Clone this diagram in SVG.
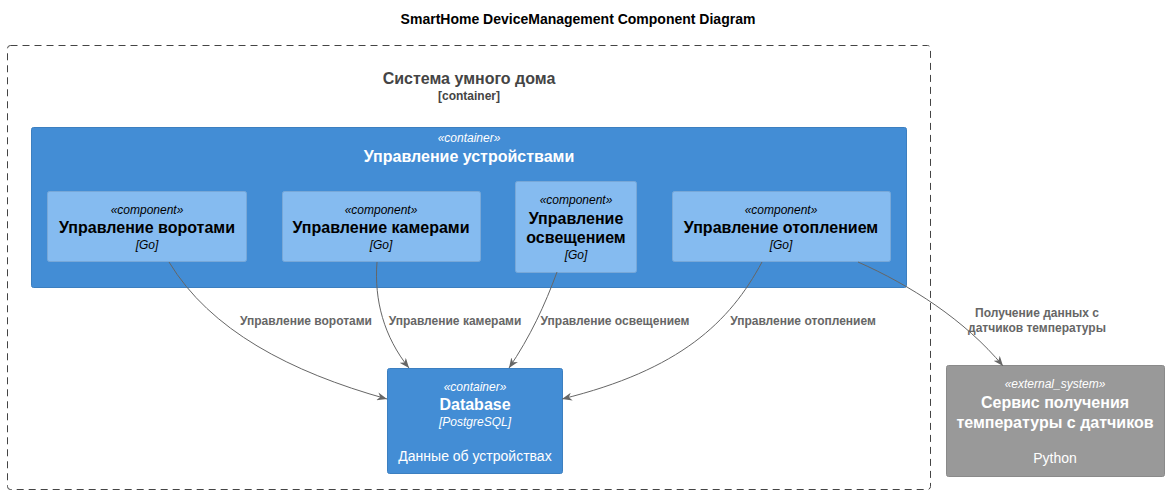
<svg xmlns="http://www.w3.org/2000/svg" width="1169" height="495" viewBox="0 0 1169 495">
<style>
text{font-family:"Liberation Sans",Arial,sans-serif;text-anchor:middle}
.title{font-size:14px;font-weight:bold;fill:#000}
.bname{font-size:16px;font-weight:bold;fill:#444}
.btype{font-size:12px;font-weight:bold;fill:#444}
.st{font-size:12px;font-style:italic}
.nm{font-size:16px;font-weight:bold}
.ds{font-size:14px}
.w{fill:#fff}
.k{fill:#000}
.lbl{font-size:12px;font-weight:bold;fill:#666}
.cont{fill:#438DD5;stroke:#3C7FC0;stroke-width:1}
.comp{fill:#85BBF0;stroke:#78A8D8;stroke-width:1}
.ext{fill:#999999;stroke:#8A8A8A;stroke-width:1}
.conn{fill:none;stroke:#666;stroke-width:1}
</style>
<defs>
<marker id="arr" viewBox="0 0 10 8" refX="10" refY="4" markerWidth="10" markerHeight="8" orient="auto" markerUnits="userSpaceOnUse">
<path d="M0,0 L10,4 L0,8 L3,4 z" fill="#666"/>
</marker>
</defs>
<rect width="1169" height="495" fill="#fff"/>
<text class="title" x="578" y="24">SmartHome DeviceManagement Component Diagram</text>

<g id="boundary">
<rect x="7.5" y="45.5" width="923" height="444" rx="3" fill="none" stroke="#444" stroke-width="1" stroke-dasharray="7,5"/>
<text class="bname" x="469" y="84">Система умного дома</text>
<text class="btype" x="469" y="100">[container]</text>
</g>

<g id="device_management">
<rect class="cont" x="31.5" y="127.5" width="875" height="160" rx="2"/>
<text class="st w" x="469" y="142">«container»</text>
<text class="nm w" x="469" y="162">Управление устройствами</text>
</g>

<g id="gate_control">
<rect class="comp" x="47.5" y="191.5" width="199" height="70" rx="2"/>
<text class="st k" x="147" y="214">«component»</text>
<text class="nm k" x="147" y="233">Управление воротами</text>
<text class="st k" x="147" y="249">[Go]</text>
</g>

<g id="camera_control">
<rect class="comp" x="282.5" y="191.5" width="198" height="70" rx="2"/>
<text class="st k" x="381" y="214">«component»</text>
<text class="nm k" x="381" y="233">Управление камерами</text>
<text class="st k" x="381" y="249">[Go]</text>
</g>

<g id="light_control">
<rect class="comp" x="515.5" y="181.5" width="121" height="91" rx="2"/>
<text class="st k" x="576" y="204">«component»</text>
<text class="nm k" x="576" y="224">Управление</text>
<text class="nm k" x="576" y="243">освещением</text>
<text class="st k" x="576" y="259">[Go]</text>
</g>

<g id="heating_control">
<rect class="comp" x="672.5" y="191.5" width="218" height="70" rx="2"/>
<text class="st k" x="781" y="214">«component»</text>
<text class="nm k" x="781" y="233">Управление отоплением</text>
<text class="st k" x="781" y="249">[Go]</text>
</g>

<g id="database">
<rect class="cont" x="387.5" y="368.5" width="175" height="105" rx="2"/>
<text class="st w" x="475" y="391">«container»</text>
<text class="nm w" x="475" y="410">Database</text>
<text class="st w" x="475" y="426">[PostgreSQL]</text>
<text class="ds w" x="475" y="461">Данные об устройствах</text>
</g>

<g id="temperature_service">
<rect class="ext" x="946.5" y="365.5" width="218" height="111" rx="2"/>
<text class="st w" x="1055" y="388">«external_system»</text>
<text class="nm w" x="1055" y="408">Сервис получения</text>
<text class="nm w" x="1055" y="428">температуры с датчиков</text>
<text class="ds w" x="1055" y="463">Python</text>
</g>

<g id="connectors">
<path class="conn" marker-end="url(#arr)" d="M169,262 C210,330 290,372 387,399"/>
<text class="lbl" x="306" y="325">Управление воротами</text>
<path class="conn" marker-end="url(#arr)" d="M377,262 C374,300 384,337 409,368"/>
<text class="lbl" x="455" y="325">Управление камерами</text>
<path class="conn" marker-end="url(#arr)" d="M557,272 C545,305 530,337 509,368"/>
<text class="lbl" x="615" y="325">Управление освещением</text>
<path class="conn" marker-end="url(#arr)" d="M762,262 C730,322 680,370 562,399"/>
<text class="lbl" x="803" y="325">Управление отоплением</text>
<path class="conn" marker-end="url(#arr)" d="M858,262 C910,285 965,320 1003,366"/>
<text class="lbl" x="1037" y="317">Получение данных с</text>
<text class="lbl" x="1037" y="332">датчиков температуры</text>
</g>
</svg>
